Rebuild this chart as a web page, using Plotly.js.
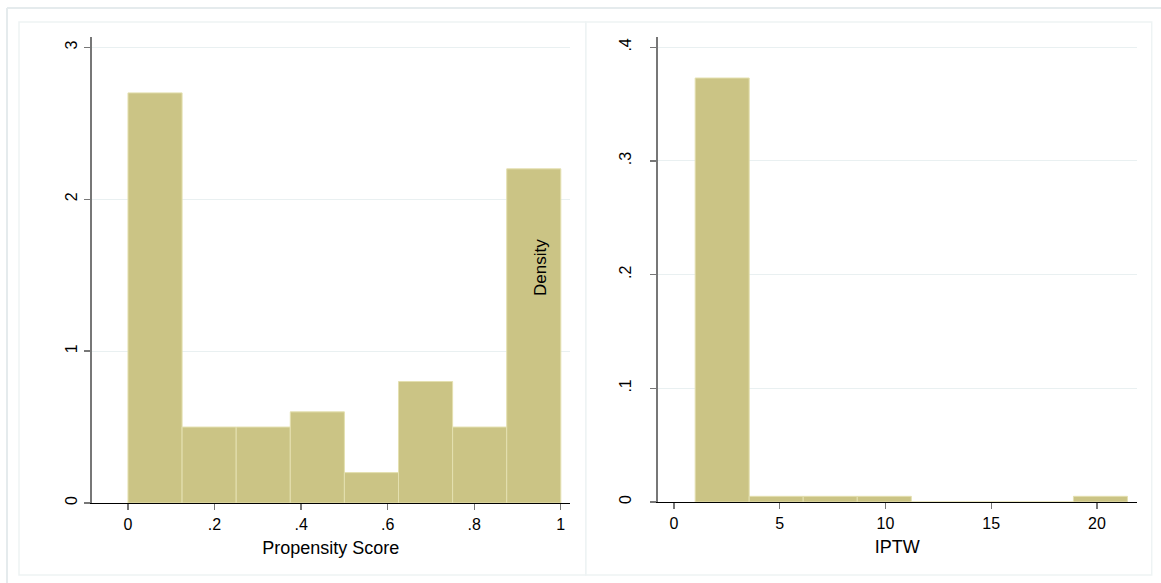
<!DOCTYPE html>
<html>
<head>
<meta charset="utf-8">
<script src="https://cdn.plot.ly/plotly-3.0.1.min.js"></script>
<style>
html,body{margin:0;padding:0;background:#fff;}
#chart{width:1161px;height:583px;}
</style>
</head>
<body>
<div id="chart"></div>
<script>
// ---- data ----
var psEdges = [0, 0.125, 0.25, 0.375, 0.5, 0.625, 0.75, 0.875, 1.0];
var psDensity = [2.70, 0.50, 0.50, 0.60, 0.20, 0.80, 0.50, 2.20];
var iptwEdges = [1.0, 3.555, 6.11, 8.665, 11.22, 13.775, 16.33, 18.885, 21.44];
var iptwDensity = [0.373, 0.005, 0.005, 0.005, 0, 0, 0, 0.005];

var psXTickVals = [0, 0.2, 0.4, 0.6, 0.8, 1];
var psXTickText = ['0', '.2', '.4', '.6', '.8', '1'];
var psYTickVals = [0, 1, 2, 3];
var psYTickText = ['0', '1', '2', '3'];
var iptwXTickVals = [0, 5, 10, 15, 20];
var iptwXTickText = ['0', '5', '10', '15', '20'];
var iptwYTickVals = [0, 0.1, 0.2, 0.3, 0.4];
var iptwYTickText = ['0', '.1', '.2', '.3', '.4'];

var xTitleLeft = 'Propensity Score';
var xTitleRight = 'IPTW';
var densityLabel = 'Density';

// ---- helpers ----
function centers(e){var c=[];for(var i=0;i<e.length-1;i++)c.push((e[i]+e[i+1])/2);return c;}
function widths(e){var w=[];for(var i=0;i<e.length-1;i++)w.push(e[i+1]-e[i]);return w;}

var W = 1161, H = 583;
function px(x){return x/W;}
function py(y){return 1 - y/H;}

var barColor = '#cbc485';
var barLine = '#e4e0b0';
var FONT = 'Arial, "Liberation Sans", Helvetica, sans-serif';

var traces = [
  {type:'bar', x:centers(psEdges), y:psDensity, width:widths(psEdges),
   marker:{color:barColor, line:{color:barLine, width:1}},
   xaxis:'x', yaxis:'y', hoverinfo:'x+y', showlegend:false},
  {type:'bar', x:centers(iptwEdges), y:iptwDensity, width:widths(iptwEdges),
   marker:{color:barColor, line:{color:barLine, width:1}},
   xaxis:'x2', yaxis:'y2', hoverinfo:'x+y', showlegend:false}
];

function xAx(domain, range, vals, text, title){
  return {domain:domain, range:range, tickmode:'array', tickvals:vals, ticktext:text,
    showline:true, linecolor:'#000000', linewidth:1.3, ticks:'outside', ticklen:6, tickwidth:1.3,
    tickcolor:'#777777', showgrid:false, zeroline:false,
    tickfont:{family:FONT, size:16, color:'#000'},
    title:{text:title, font:{family:FONT, size:18, color:'#000'}, standoff:10},
    fixedrange:true};
}
function yAx(domain, range, vals, text, anchor, standoff){
  return {domain:domain, range:range, anchor:anchor, tickmode:'array', tickvals:vals, ticktext:text,
    showline:true, linecolor:'#777777', linewidth:2, ticks:'outside', ticklen:6, tickwidth:1.3,
    tickcolor:'#777777', showgrid:true, gridcolor:'#e9f0f1', gridwidth:1, zeroline:false,
    tickangle:-90, ticklabelstandoff:standoff,
    tickfont:{family:FONT, size:16, color:'#000'}, fixedrange:true};
}

var layout = {
  width:W, height:H,
  margin:{l:0, r:0, t:0, b:0, pad:0},
  paper_bgcolor:'#ffffff', plot_bgcolor:'rgba(0,0,0,0)',
  showlegend:false, bargap:0,
  xaxis: xAx([px(91.7), px(570)], [-0.0838, 1.0212], psXTickVals, psXTickText, xTitleLeft),
  yaxis: yAx([py(503), py(37.3)], [0, 3.066], psYTickVals, psYTickText, 'x', 0),
  xaxis2: Object.assign(xAx([px(657.7), px(1136.7)], [-0.771, 21.877], iptwXTickVals, iptwXTickText, xTitleRight), {anchor:'y2'}),
  yaxis2: yAx([py(502), py(37.3)], [0, 0.4088], iptwYTickVals, iptwYTickText, 'x2', 12),
  shapes:[
    {type:'line', xref:'paper', yref:'paper', x0:px(7), x1:px(1161), y0:py(8), y1:py(8), line:{color:'#e5ebed', width:2}, layer:'below'},
    {type:'line', xref:'paper', yref:'paper', x0:px(7), x1:px(7), y0:py(8), y1:py(583), line:{color:'#e5ebed', width:2}, layer:'below'},
    {type:'rect', xref:'paper', yref:'paper', x0:px(19), x1:px(585.7), y0:py(575), y1:py(22), line:{color:'#eef3f4', width:1.5}, fillcolor:'rgba(0,0,0,0)', layer:'below'},
    {type:'rect', xref:'paper', yref:'paper', x0:px(585.7), x1:px(1151.7), y0:py(575), y1:py(22), line:{color:'#eef3f4', width:1.5}, fillcolor:'rgba(0,0,0,0)', layer:'below'}
  ],
  annotations:[
    {xref:'paper', yref:'paper', x:px(540), y:py(268), text:densityLabel, showarrow:false,
     textangle:-90, xanchor:'center', yanchor:'middle', font:{family:FONT, size:17, color:'#000'}}
  ]
};

Plotly.newPlot('chart', traces, layout, {displayModeBar:false, staticPlot:true});
</script>
</body>
</html>
